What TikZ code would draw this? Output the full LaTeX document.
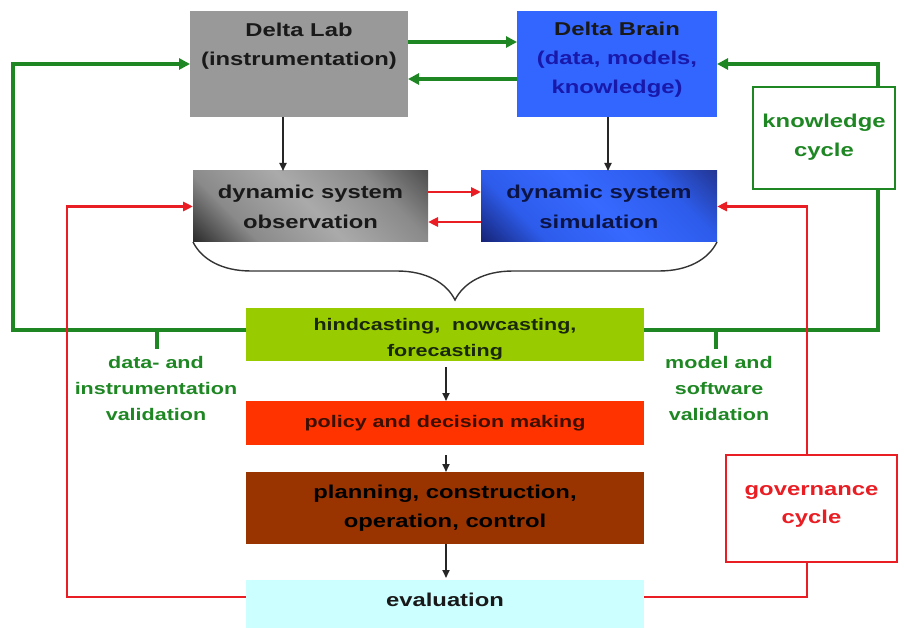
\documentclass[tikz,border=0pt]{standalone}
\usepackage{fontspec}
\setmainfont{Liberation Sans}[FakeStretch=1.28]
\usetikzlibrary{arrows.meta,decorations.pathreplacing}

\definecolor{cycgreen}{RGB}{30,135,35}
\definecolor{cycred}{RGB}{232,30,36}
\definecolor{labgray}{RGB}{153,153,153}
\definecolor{brainblue}{RGB}{51,102,255}
\definecolor{brainink}{RGB}{24,24,170}
\definecolor{simink}{RGB}{12,20,70}
\definecolor{hindgreen}{RGB}{153,204,0}
\definecolor{hindink}{RGB}{25,40,10}
\definecolor{policyred}{RGB}{255,51,0}
\definecolor{policyink}{RGB}{60,15,0}
\definecolor{planbrown}{RGB}{153,51,0}
\definecolor{evalcyan}{RGB}{204,255,255}

% diagonal shadings: dark corners, lighter band through the middle
\definecolor{obsdarkA}{RGB}{45,45,45}
\definecolor{obsdarkB}{RGB}{80,80,80}
\definecolor{obsmid}{RGB}{138,138,138}
\definecolor{obslight}{RGB}{170,170,170}
\pgfdeclarehorizontalshading{obsshade}{100bp}{color(0bp)=(obsdarkA); color(15bp)=(obsdarkA);
  color(30bp)=(obsmid); color(50bp)=(obslight); color(70bp)=(obsmid);
  color(85bp)=(obsdarkB); color(100bp)=(obsdarkB)}
\definecolor{simdarkA}{RGB}{22,36,120}
\definecolor{simdarkB}{RGB}{35,55,150}
\definecolor{simmid}{RGB}{45,92,235}
\definecolor{simlight}{RGB}{55,105,255}
\pgfdeclarehorizontalshading{simshade}{100bp}{color(0bp)=(simdarkA); color(15bp)=(simdarkA);
  color(30bp)=(simmid); color(50bp)=(simlight); color(70bp)=(simmid);
  color(85bp)=(simdarkB); color(100bp)=(simdarkB)}

\newcommand{\bigtext}[1]{\fontsize{18.6}{#1}\selectfont\bfseries}
\newcommand{\smalltext}[1]{\fontsize{16.8}{#1}\selectfont\bfseries}

\begin{document}
\begin{tikzpicture}[x=1pt,y=-1pt,
  box/.style={rectangle,inner sep=0pt,outer sep=0pt,draw=none},
  txt/.style={inner sep=0pt,align=center},
  cyclebox/.style={rectangle,inner sep=0pt,outer sep=0pt,fill=white,line width=1.1pt},
  gline/.style={draw=cycgreen,line width=3.6pt},
  garrow/.style={gline,-{Triangle[length=11pt,width=11pt]}},
  rline/.style={draw=cycred,line width=2.8pt},
  rarrow/.style={rline,-{Triangle[length=10pt,width=9pt]}},
  karrow/.style={draw=black!85,line width=1.7pt,-{Triangle[length=8pt,width=7pt]}},
]
\useasboundingbox (0,0) rectangle (904,628);

% --- top row: lab and brain
\node[box,fill=labgray,minimum width=218pt,minimum height=106pt] (lab) at (299,64) {};
\node[txt,font=\bigtext{29},text=black!90] (labtext) at (299,46) {Delta Lab\\(instrumentation)};
\node[box,fill=brainblue,minimum width=200pt,minimum height=106pt] (brain) at (617,64) {};
\node[txt,font=\bigtext{29},text=black!90] (braintext) at (617,60)
  {Delta Brain\\\textcolor{brainink}{(data, models,}\\\textcolor{brainink}{knowledge)}};

% --- dynamic system row
\node[box,minimum width=235pt,minimum height=71pt,shading=obsshade,shading angle=45,
      font=\bigtext{30},align=center,text=black!90] (obs) at (310.5,206.5)
  {dynamic system\\observation};
\node[box,minimum width=236pt,minimum height=71pt,shading=simshade,shading angle=45,
      font=\bigtext{30},align=center,text=simink] (sim) at (599,206.5)
  {dynamic system\\simulation};

% --- central chain
\node[box,fill=hindgreen,minimum width=398pt,minimum height=53pt] (hind) at (445,334.5) {};
\node[txt,font=\smalltext{26},text=hindink] (hindtext) at (445,339)
  {hindcasting,\ \ nowcasting,\\forecasting};
\node[box,fill=policyred,minimum width=398pt,minimum height=44pt,
      font=\smalltext{26},text=policyink] (policy) at (445,423) {policy and decision making};
\node[box,fill=planbrown,minimum width=398pt,minimum height=72pt,
      font=\bigtext{29},align=center,text=black] (plan) at (445,508)
  {planning, construction,\\operation, control};
\node[box,fill=evalcyan,minimum width=398pt,minimum height=50pt] (eval) at (445,605) {};
\node[txt,font=\bigtext{29},text=black!90] (evaltext) at (445,600) {evaluation};

% --- validation labels
\node[txt,font=\smalltext{26},text=cycgreen] (dvl) at (156,388)
  {data- and\\instrumentation\\validation};
\node[txt,font=\smalltext{26},text=cycgreen] (mvl) at (719,388)
  {model and\\software\\validation};

% --- knowledge cycle (green)
\coordinate (gl) at (13,0);
\coordinate (gr) at (878,0);
\draw[garrow] ([yshift=4.5pt]hind.west) -| (gl |- lab.west) -- (lab.west);
\draw[garrow] ([yshift=4.5pt]hind.east) -| (gr |- brain.east) -- (brain.east);
\draw[garrow] ([yshift=22pt]lab.east) -- ([yshift=22pt]brain.west);
\draw[garrow] ([yshift=-15pt]brain.west) -- ([yshift=-15pt]lab.east);
\coordinate (dvtick) at (157,330);
\coordinate (mvtick) at (716,330);
\draw[gline] (dvtick) -- ++(0,19);
\draw[gline] (mvtick) -- ++(0,19);

% --- governance cycle (red)
\coordinate (rl) at (67,0);
\coordinate (rr) at (807,0);
\draw[rarrow] ([yshift=8pt]eval.west) -| (rl |- obs.west) -- (obs.west);
\draw[rarrow] ([yshift=8pt]eval.east) -| (rr |- sim.east) -- (sim.east);
\draw[rarrow] ([yshift=14.5pt]obs.east) -- ([yshift=14.5pt]sim.west);
\draw[rarrow] ([yshift=-15.5pt]sim.west) -- ([yshift=-15.5pt]obs.east);

% --- black flow arrows
\draw[karrow] ([xshift=-16pt]lab.south) -- ([xshift=-16pt]lab.south |- obs.north);
\draw[karrow] ([xshift=-9pt]brain.south) -- ([xshift=-9pt]brain.south |- sim.north);
\draw[karrow] ([xshift=1pt,yshift=-6pt]hind.south) -- ([xshift=1pt]policy.north);
\draw[karrow] ([xshift=1pt,yshift=-10pt]policy.south) -- ([xshift=1pt]plan.north);
\draw[karrow] ([xshift=1pt]plan.south) -- ([xshift=1pt,yshift=2pt]eval.north);

% --- brace gathering observation and simulation
\draw[decorate,decoration={brace,mirror,amplitude=58pt},draw=black!80,line width=1.4pt]
  (obs.south west) -- (sim.south east);

% --- cycle boxes on top of the loops
\node[cyclebox,draw=cycgreen,minimum width=142pt,minimum height=102pt] (know) at (824,138) {};
\node[txt,font=\bigtext{29},text=cycgreen] (knowtext) at (824,137.5) {knowledge\\cycle};
\node[cyclebox,draw=cycred,minimum width=171pt,minimum height=107pt] (gov) at (811.5,508.5) {};
\node[txt,font=\bigtext{28},text=cycred] (govtext) at (811.5,506) {governance\\cycle};
\end{tikzpicture}
\end{document}
